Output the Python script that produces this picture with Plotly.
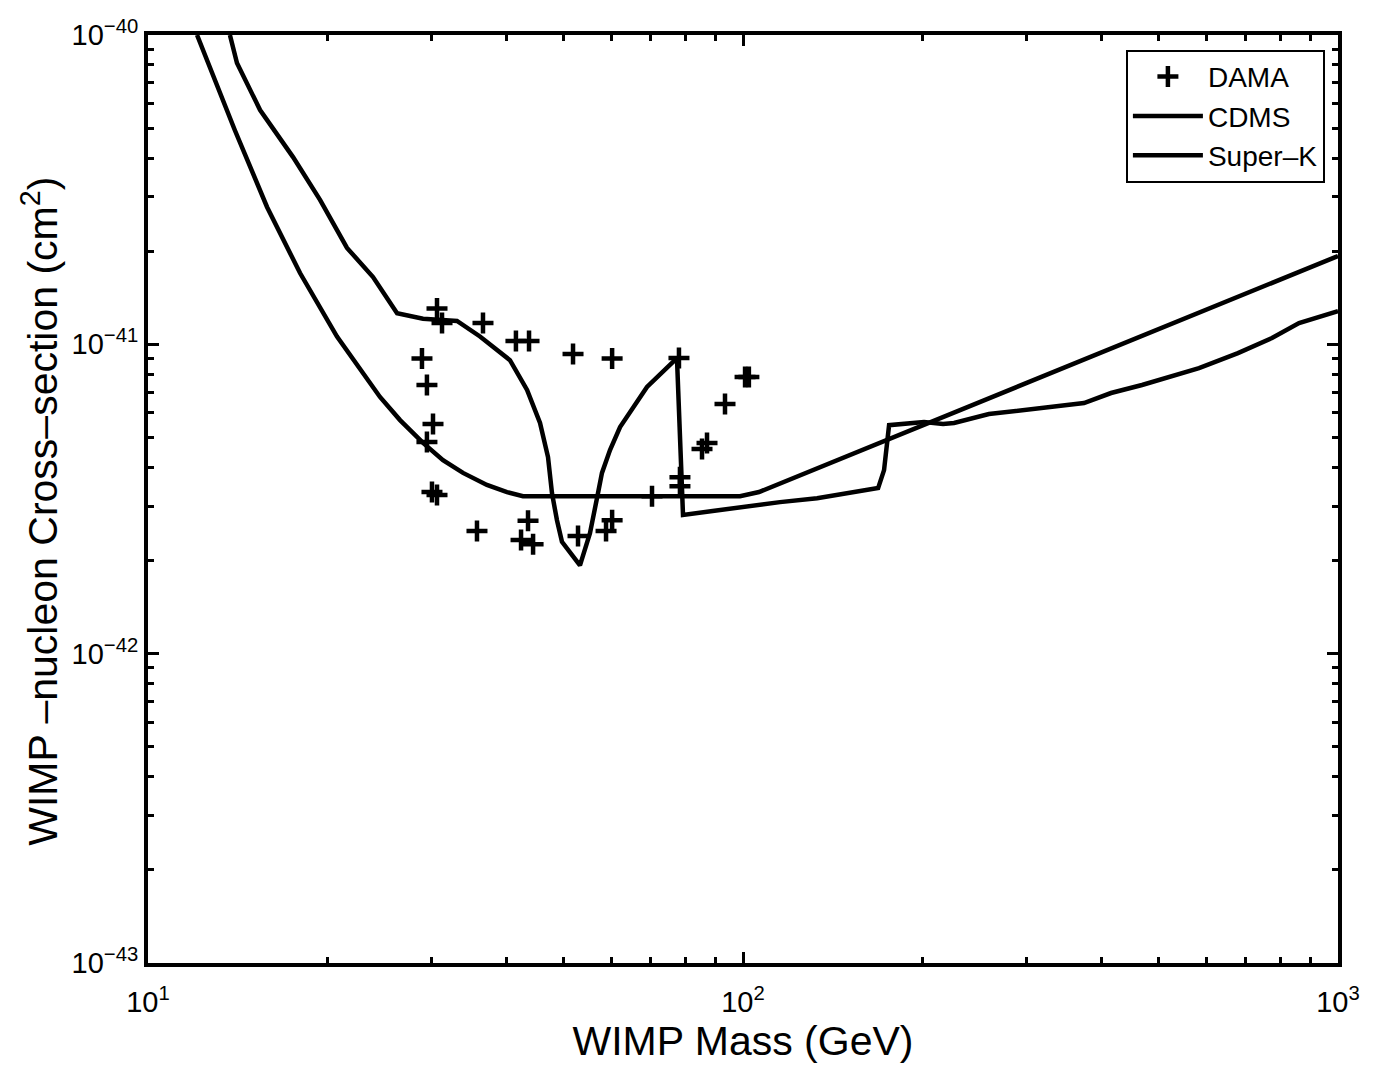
import plotly.graph_objects as go

# DAMA annual-modulation allowed points (WIMP mass in GeV, cross-section in cm^2)
dama_mass = [30.60, 31.20, 36.56, 41.53, 43.69, 51.80, 60.26, 78.05, 100.8, 102.3,
             93.27, 87.00, 85.33, 28.87, 29.43, 30.13, 29.43, 30.01, 30.60, 35.72,
             43.52, 42.36, 44.38, 52.81, 58.86, 60.26, 70.32, 78.35, 78.35]
dama_xsec = [1.306e-41, 1.172e-41, 1.172e-41, 1.025e-41, 1.025e-41, 9.30e-42, 9.00e-42,
             9.03e-42, 7.84e-42, 7.84e-42, 6.41e-42, 4.80e-42, 4.59e-42, 9.00e-42,
             7.39e-42, 5.53e-42, 4.83e-42, 3.33e-42, 3.26e-42, 2.49e-42, 2.69e-42,
             2.33e-42, 2.26e-42, 2.40e-42, 2.49e-42, 2.70e-42, 3.23e-42, 3.72e-42,
             3.48e-42]

# CDMS exclusion limit
cdms_mass = [12.09, 13.99, 15.85, 18.01, 20.78, 24.54, 26.52, 28.99, 31.32, 33.84,
             37.12, 40.12, 42.68, 98.85, 106.4, 1000.0]
cdms_xsec = [1.00e-40, 4.93e-41, 2.78e-41, 1.70e-41, 1.06e-41, 6.76e-42, 5.69e-42,
             4.80e-42, 4.22e-42, 3.84e-42, 3.51e-42, 3.33e-42, 3.23e-42, 3.23e-42,
             3.33e-42, 1.93e-41]

# Super-Kamiokande indirect limit
superk_mass = [13.73, 14.11, 15.43, 17.53, 19.46, 21.60, 23.89, 26.22, 28.99, 33.06,
               36.14, 40.58, 43.36, 45.59, 47.02, 47.75, 48.68, 49.63, 53.21, 55.31,
               57.05, 57.94, 59.77, 62.14, 68.97, 77.45, 79.28, 98.85, 115.4, 133.2,
               168.7, 172.6, 174.6, 176.0, 201.5, 216.9, 226.3, 259.0, 374.2, 415.5,
               468.4, 584.0, 679.0, 774.6, 860.0, 1000.0]
superk_xsec = [1.00e-40, 8.12e-41, 5.72e-41, 4.03e-41, 2.93e-41, 2.05e-41, 1.65e-41,
               1.26e-41, 1.21e-41, 1.19e-41, 1.06e-41, 8.89e-42, 7.12e-42, 5.57e-42,
               4.32e-42, 3.30e-42, 2.70e-42, 2.30e-42, 1.93e-42, 2.45e-42, 3.30e-42,
               3.84e-42, 4.55e-42, 5.40e-42, 7.28e-42, 9.03e-42, 2.81e-42, 2.98e-42,
               3.09e-42, 3.18e-42, 3.43e-42, 3.92e-42, 4.66e-42, 5.48e-42, 5.61e-42,
               5.53e-42, 5.57e-42, 5.95e-42, 6.46e-42, 6.96e-42, 7.39e-42, 8.38e-42,
               9.37e-42, 1.048e-41, 1.172e-41, 1.281e-41]

x_tick_vals = [10, 100, 1000]
x_tick_text = ["10<sup>1</sup>", "10<sup>2</sup>", "10<sup>3</sup>"]
y_tick_vals = [1e-43, 1e-42, 1e-41, 1e-40]
y_tick_text = ["10<sup>\u221243</sup>", "10<sup>\u221242</sup>",
               "10<sup>\u221241</sup>", "10<sup>\u221240</sup>"]

FONT = "Liberation Sans, Arial, Helvetica, sans-serif"

fig = go.Figure()
fig.add_trace(go.Scatter(
    x=dama_mass, y=dama_xsec, mode="markers", name="DAMA",
    marker=dict(symbol="cross-thin", size=15, color="black",
                line=dict(color="black", width=4.5)),
))
fig.add_trace(go.Scatter(
    x=cdms_mass, y=cdms_xsec, mode="lines", name="CDMS",
    line=dict(color="black", width=4.5),
))
fig.add_trace(go.Scatter(
    x=superk_mass, y=superk_xsec, mode="lines", name="Super\u2013K",
    line=dict(color="black", width=4.5),
))

axis_common = dict(
    type="log",
    showgrid=False,
    zeroline=False,
    showline=True,
    linecolor="black",
    linewidth=4,
    mirror="allticks",
    ticks="inside",
    ticklen=11,
    tickwidth=3,
    tickcolor="black",
    tickfont=dict(family=FONT, size=29, color="black"),
    minor=dict(ticks="inside", ticklen=6, tickwidth=3, tickcolor="black",
               dtick="D1", showgrid=False),
)

fig.update_xaxes(
    **axis_common,
    range=[1, 3],
    tickvals=x_tick_vals,
    ticktext=x_tick_text,
    ticklabelstandoff=10,
    title=dict(text="WIMP Mass (GeV)", font=dict(family=FONT, size=41, color="black"),
               standoff=8),
)
fig.update_yaxes(
    **axis_common,
    range=[-43, -40],
    tickvals=y_tick_vals,
    ticktext=y_tick_text,
    ticklabelstandoff=0,
)

# Vertical axis title placed as a rotated annotation
fig.add_annotation(
    text="WIMP \u2013nucleon Cross\u2013section (cm<sup>2</sup>)",
    xref="paper", yref="paper", x=-0.091, y=0.487,
    xanchor="center", yanchor="middle", textangle=-90, showarrow=False,
    font=dict(family=FONT, size=41, color="black"),
)

fig.update_layout(
    width=1382,
    height=1071,
    margin=dict(l=148, r=44, t=35, b=108),
    paper_bgcolor="white",
    plot_bgcolor="white",
    font=dict(family=FONT, color="black"),
    legend=dict(
        x=0.989, y=0.984, xanchor="right", yanchor="top",
        bgcolor="white", bordercolor="black", borderwidth=2,
        font=dict(family=FONT, size=28, color="black"),
        itemwidth=70,
        tracegroupgap=0,
    ),
)

fig.write_html("out.html")
